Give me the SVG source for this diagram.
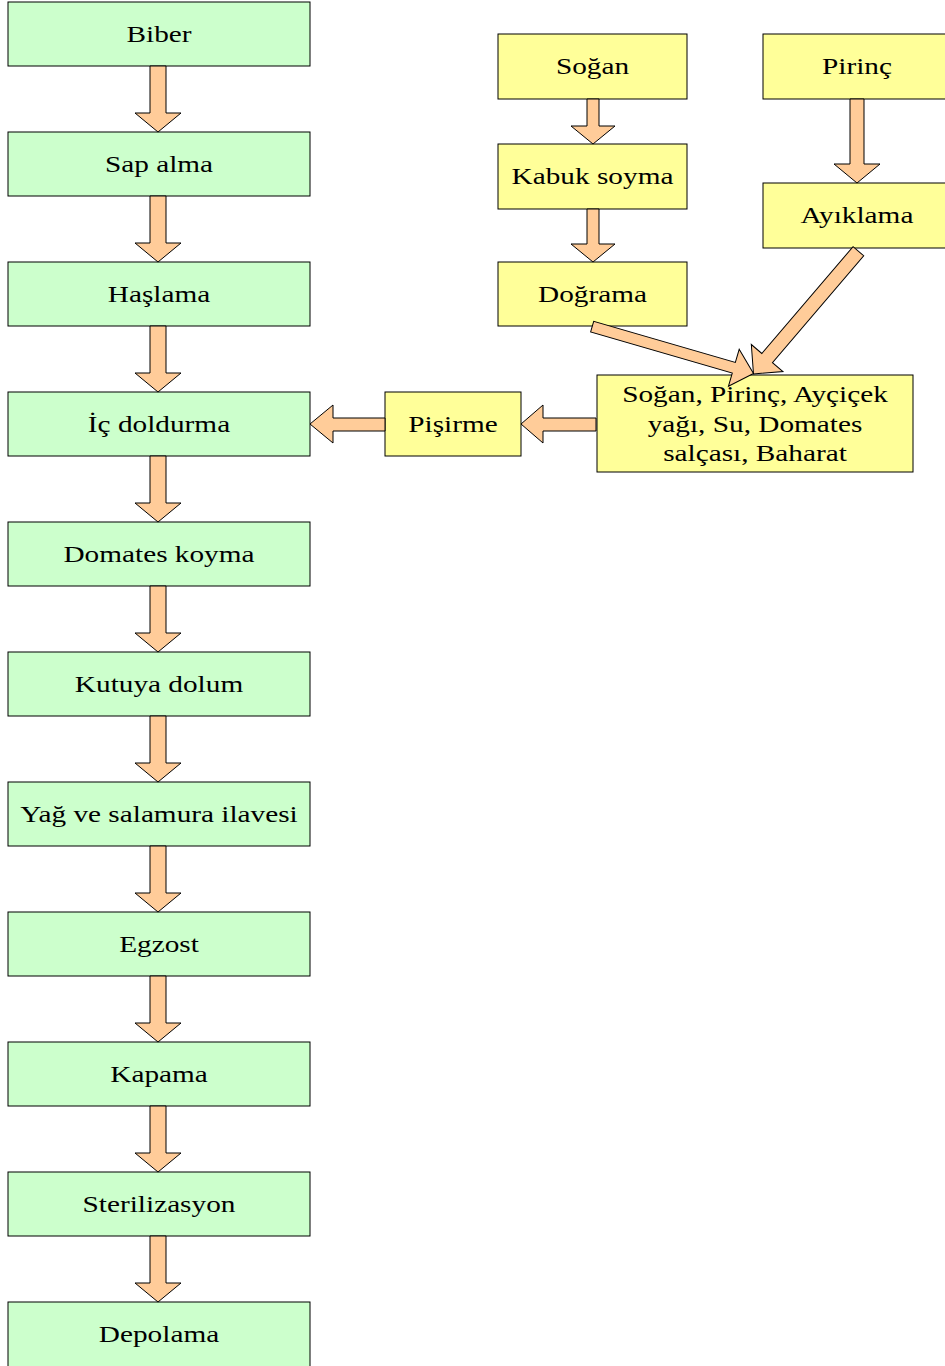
<svg xmlns="http://www.w3.org/2000/svg" width="945" height="1366" viewBox="0 0 945 1366">
<style>
.g{fill:#CCFFCC;stroke:#000;stroke-width:1}
.y{fill:#FFFF99;stroke:#000;stroke-width:1}
.a{fill:#FFCC99;stroke:#000;stroke-width:1;stroke-linejoin:miter}
text{font-family:"Liberation Serif","Times New Roman",serif;font-size:24px;fill:#000;text-anchor:middle}
</style>
<defs>
<path id="dn" d="M-8,0 H8 V47 H23 L0,66 L-23,47 H-8 Z"/>
</defs>
<rect width="945" height="1366" fill="#fff"/>
<g id="n-biber"><rect class="g" x="8" y="2" width="302" height="64"/><text transform="translate(159,42) scale(1.22,1)">Biber</text></g>
<g id="n-sap"><rect class="g" x="8" y="132" width="302" height="64"/><text transform="translate(159,172) scale(1.22,1)">Sap alma</text></g>
<g id="n-haslama"><rect class="g" x="8" y="262" width="302" height="64"/><text transform="translate(159,302) scale(1.22,1)">Haşlama</text></g>
<g id="n-ic"><rect class="g" x="8" y="392" width="302" height="64"/><text transform="translate(159,432) scale(1.22,1)">İç doldurma</text></g>
<g id="n-domates"><rect class="g" x="8" y="522" width="302" height="64"/><text transform="translate(159,562) scale(1.22,1)">Domates koyma</text></g>
<g id="n-kutu"><rect class="g" x="8" y="652" width="302" height="64"/><text transform="translate(159,692) scale(1.22,1)">Kutuya dolum</text></g>
<g id="n-yag"><rect class="g" x="8" y="782" width="302" height="64"/><text transform="translate(159,822) scale(1.22,1)">Yağ ve salamura ilavesi</text></g>
<g id="n-egzost"><rect class="g" x="8" y="912" width="302" height="64"/><text transform="translate(159,952) scale(1.22,1)">Egzost</text></g>
<g id="n-kapama"><rect class="g" x="8" y="1042" width="302" height="64"/><text transform="translate(159,1082) scale(1.22,1)">Kapama</text></g>
<g id="n-steril"><rect class="g" x="8" y="1172" width="302" height="64"/><text transform="translate(159,1212) scale(1.22,1)">Sterilizasyon</text></g>
<g id="n-depolama"><rect class="g" x="8" y="1302" width="302" height="70"/><text transform="translate(159,1342) scale(1.22,1)">Depolama</text></g>
<g id="n-sogan"><rect class="y" x="498" y="34" width="189" height="65"/><text transform="translate(592.5,74) scale(1.22,1)">Soğan</text></g>
<g id="n-kabuk"><rect class="y" x="498" y="144" width="189" height="65"/><text transform="translate(592.5,184) scale(1.22,1)">Kabuk soyma</text></g>
<g id="n-dograma"><rect class="y" x="498" y="262" width="189" height="64"/><text transform="translate(592.5,302) scale(1.22,1)">Doğrama</text></g>
<g id="n-pirinc"><rect class="y" x="763" y="34" width="190" height="65"/><text transform="translate(857,74) scale(1.22,1)">Pirinç</text></g>
<g id="n-ayiklama"><rect class="y" x="763" y="183" width="190" height="65"/><text transform="translate(857,223) scale(1.22,1)">Ayıklama</text></g>
<g id="n-karisim"><rect class="y" x="597" y="375" width="316" height="97"/>
<text transform="translate(755,402) scale(1.22,1)">Soğan, Pirinç, Ayçiçek</text>
<text transform="translate(755,431.5) scale(1.22,1)">yağı, Su, Domates</text>
<text transform="translate(755,461) scale(1.22,1)">salçası, Baharat</text></g>
<g id="n-pisirme"><rect class="y" x="385" y="392" width="136" height="64"/><text transform="translate(453,432) scale(1.22,1)">Pişirme</text></g>
<g id="connectors">
<use href="#dn" class="a" x="158" y="66"/>
<use href="#dn" class="a" x="158" y="196"/>
<use href="#dn" class="a" x="158" y="326"/>
<use href="#dn" class="a" x="158" y="456"/>
<use href="#dn" class="a" x="158" y="586"/>
<use href="#dn" class="a" x="158" y="716"/>
<use href="#dn" class="a" x="158" y="846"/>
<use href="#dn" class="a" x="158" y="976"/>
<use href="#dn" class="a" x="158" y="1106"/>
<use href="#dn" class="a" x="158" y="1236"/>
<path class="a" d="M587,99 H599 V126 H615 L593,144 L571,126 H587 Z"/>
<path class="a" d="M587,209 H599 V244 H615 L593,262 L571,244 H587 Z"/>
<path class="a" d="M850,99 H864 V164 H880 L857,183 L834,164 H850 Z"/>
<path class="a" d="M596,418 V431 H543 V443 L521,424 L543,405 V418 Z"/>
<path class="a" d="M385,418 V431 H333 V443 L310,424 L333,405 V418 Z"/>
<path class="a" transform="translate(753.5,373.5) rotate(16.2)" d="M0,0 L-20.5,-19.3 L-20.5,-5.5 L-168,-5.5 L-168,5.5 L-20.5,5.5 L-20.5,19.3 Z"/>
<path class="a" transform="translate(753.5,374) rotate(130.5)" d="M0,0 L-21,-20.8 L-21,-7 L-161.5,-7 L-161.5,7 L-21,7 L-21,20.8 Z"/>
</g>
</svg>
